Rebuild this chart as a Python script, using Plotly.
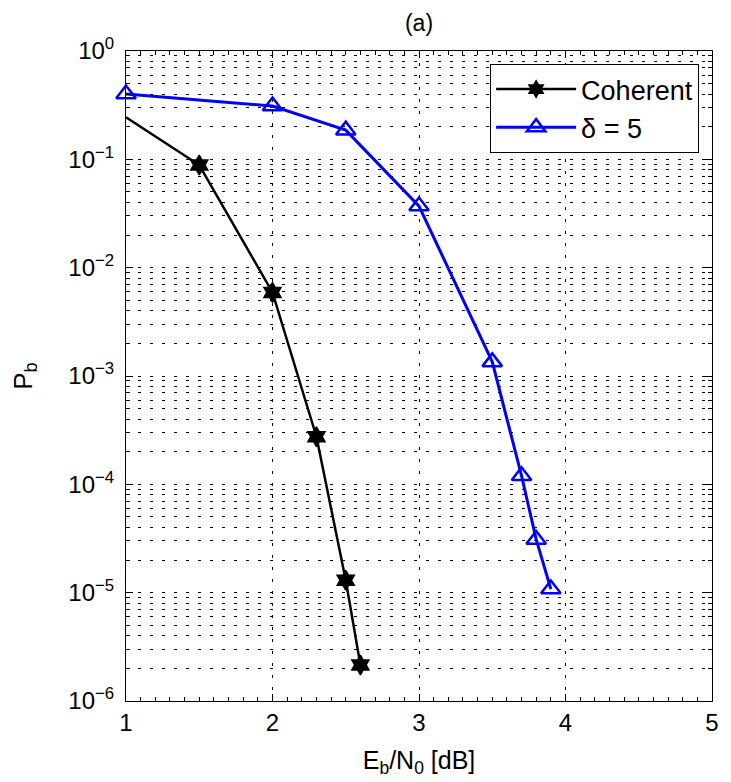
import plotly.graph_objects as go

# ---- data ----
coh_x = [1.0, 1.5, 2.0, 2.3, 2.5, 2.6]
coh_y = [0.244, 0.0886, 0.0059, 2.75e-4, 1.3e-5, 2.15e-6]

d5_x = [1.0, 2.0, 2.5, 3.0, 3.5, 3.7, 3.8, 3.9]
d5_y = [0.40, 0.31, 0.186, 0.037, 1.35e-3, 1.2e-4, 3.1e-5, 1.08e-5]

x_ticks = [1, 2, 3, 4, 5]
y_exps = [0, -1, -2, -3, -4, -5, -6]

series_names = ["Coherent", "δ = 5"]

# ---- figure ----
FONT = "Liberation Sans, Arial, sans-serif"
GRID_DASH = "3px,9px"

y_tickvals = [10.0 ** e for e in y_exps]
y_ticktext = ["10<sup>" + (str(e) if e >= 0 else "\u2212" + str(-e)) + "</sup>" for e in y_exps]
y_minor = [m * 10.0 ** e for e in y_exps[1:] for m in range(2, 10)]

fig = go.Figure()

coh_sizes = [0] + [15] * (len(coh_x) - 1)
fig.add_trace(go.Scatter(
    x=coh_x, y=coh_y, name=series_names[0], mode="lines+markers",
    line=dict(color="black", width=2.5),
    marker=dict(symbol="hexagram", size=coh_sizes, color="black", opacity=1,
                line=dict(color="black", width=1.5)),
    cliponaxis=False,
))
fig.add_trace(go.Scatter(
    x=d5_x, y=d5_y, name=series_names[1], mode="lines+markers",
    line=dict(color="#0000ff", width=3),
    marker=dict(symbol="triangle-up-open", size=17, color="#0000ff",
                line=dict(color="#0000ff", width=2.5)),
    cliponaxis=False,
))

fig.update_layout(
    width=731, height=782,
    margin=dict(l=126, r=12, t=51, b=81),
    paper_bgcolor="white", plot_bgcolor="white",
    font=dict(family=FONT, size=24, color="black"),
    title=dict(text="(a)", x=0.5, xref="paper", y=1 - 23 / 782, yref="container",
               xanchor="center", yanchor="middle", font=dict(size=23)),
    legend=dict(x=0.978, y=0.98, xanchor="right", yanchor="top",
                bgcolor="white", bordercolor="black", borderwidth=1,
                font=dict(size=27), itemwidth=80, tracegroupgap=0),
    showlegend=True,
)

fig.update_xaxes(
    range=[1, 5], tickvals=x_ticks, ticktext=[str(v) for v in x_ticks],
    showline=True, linecolor="black", linewidth=1, mirror="allticks",
    ticks="inside", ticklen=7, tickcolor="black",
    showgrid=True, gridcolor="black", gridwidth=1, griddash=GRID_DASH,
    zeroline=False,
    minor=dict(dtick=0.1, ticks="inside", ticklen=4, tickcolor="black", showgrid=False),
    title=dict(text="E<sub>b</sub>/N<sub>0</sub> [dB]", standoff=16, font=dict(size=25)),
)
fig.update_yaxes(
    type="log", range=[-6, 0], tickvals=y_tickvals, ticktext=y_ticktext,
    showline=True, linecolor="black", linewidth=1, mirror="allticks",
    ticks="inside", ticklen=7, tickcolor="black",
    showgrid=True, gridcolor="black", gridwidth=1, griddash=GRID_DASH,
    zeroline=False, ticklabelstandoff=6,
    minor=dict(tickvals=y_minor, ticks="inside", ticklen=4, tickcolor="black",
               showgrid=True, gridcolor="black", gridwidth=1, griddash=GRID_DASH),
    title=dict(text="P<sub>b</sub>", standoff=28, font=dict(size=26)),
)

fig.write_html("out.html")
